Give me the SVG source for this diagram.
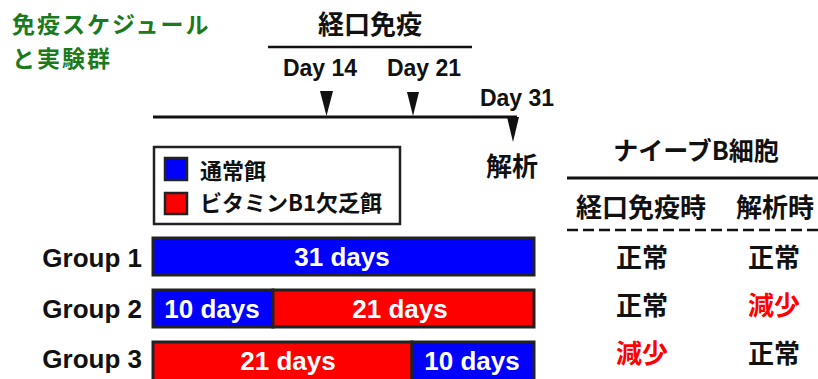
<svg xmlns="http://www.w3.org/2000/svg" width="818" height="379" viewBox="0 0 818 379">
<style>
  text { font-family: "Liberation Sans", "Noto Sans CJK JP", sans-serif; font-weight: bold; }
  .jp { font-family: "Noto Sans CJK JP", "Liberation Sans", sans-serif; font-weight: bold; }
  .blk { fill: #111; }
  .wh { fill: #fff; }
  .red { fill: #ff0000; }
  .bar { stroke: #222; stroke-width: 3; }
  .blue { fill: #0000ff; }
  .redf { fill: #ff0000; }
  .tri { fill: #111; }
  .ttl { fill: #1b7a1b; font-size: 23px; letter-spacing: 2px; }
</style>
<rect width="818" height="379" fill="#fff"/>

<g id="title">
  <text class="jp ttl" x="12" y="33">免疫スケジュール</text>
  <text class="jp ttl" x="12" y="67">と実験群</text>
</g>

<g id="immunization">
  <text class="jp blk" x="370" y="34" font-size="26" text-anchor="middle">経口免疫</text>
  <line x1="268" y1="47" x2="472" y2="47" stroke="#111" stroke-width="2.5"/>
</g>

<g id="timeline">
  <line x1="153" y1="117" x2="517" y2="117" stroke="#111" stroke-width="3"/>
  <text class="blk" x="320" y="76" font-size="23" text-anchor="middle">Day 14</text>
  <text class="blk" x="424" y="76" font-size="23" text-anchor="middle">Day 21</text>
  <text class="blk" x="517" y="106" font-size="23" text-anchor="middle">Day 31</text>
  <polygon class="tri" points="320,91 333,91 326.5,116"/>
  <polygon class="tri" points="407,92 419,92 413,116"/>
  <polygon class="tri" points="507,117 519,117 513,142"/>
  <text class="jp blk" x="512" y="176" font-size="26" text-anchor="middle">解析</text>
</g>

<g id="legend">
  <rect x="154" y="147" width="246" height="77" fill="#fff" stroke="#222" stroke-width="2.5"/>
  <rect x="165" y="158" width="22" height="22" class="blue" stroke="#222" stroke-width="2.5"/>
  <text class="jp blk" x="200" y="179" font-size="22">通常餌</text>
  <rect x="165" y="193" width="22" height="21" class="redf" stroke="#222" stroke-width="2.5"/>
  <text class="jp blk" x="200" y="211" font-size="22">ビタミンB1欠乏餌</text>
</g>

<g id="group1">
  <text class="blk" x="142" y="267" font-size="26" text-anchor="end">Group 1</text>
  <rect x="153" y="238" width="381" height="37" class="bar blue"/>
  <text class="wh" x="342" y="266" font-size="26" text-anchor="middle">31 days</text>
</g>

<g id="group2">
  <text class="blk" x="142" y="318" font-size="26" text-anchor="end">Group 2</text>
  <rect x="153" y="290" width="120" height="37" class="bar blue"/>
  <rect x="273" y="290" width="261" height="37" class="bar redf"/>
  <text class="wh" x="212" y="318" font-size="26" text-anchor="middle">10 days</text>
  <text class="wh" x="400" y="318" font-size="26" text-anchor="middle">21 days</text>
</g>

<g id="group3">
  <text class="blk" x="142" y="368" font-size="26" text-anchor="end">Group 3</text>
  <rect x="153" y="342" width="259" height="40" class="bar redf"/>
  <rect x="412" y="342" width="122" height="40" class="bar blue"/>
  <text class="wh" x="288" y="370" font-size="26" text-anchor="middle">21 days</text>
  <text class="wh" x="472" y="370" font-size="26" text-anchor="middle">10 days</text>
</g>

<g id="table">
  <text class="jp blk" x="696" y="160" font-size="25" text-anchor="middle">ナイーブB細胞</text>
  <line x1="567" y1="178" x2="818" y2="178" stroke="#111" stroke-width="3"/>
  <text class="jp blk" x="641" y="217" font-size="26" text-anchor="middle">経口免疫時</text>
  <text class="jp blk" x="775" y="217" font-size="26" text-anchor="middle">解析時</text>
  <line x1="567" y1="230" x2="818" y2="230" stroke="#111" stroke-width="2.5" stroke-dasharray="11,5"/>
  <text class="jp blk" x="642" y="267" font-size="26" text-anchor="middle">正常</text>
  <text class="jp blk" x="774" y="267" font-size="26" text-anchor="middle">正常</text>
  <text class="jp blk" x="642" y="315" font-size="26" text-anchor="middle">正常</text>
  <text class="jp red" x="774" y="315" font-size="26" text-anchor="middle">減少</text>
  <text class="jp red" x="642" y="363" font-size="26" text-anchor="middle">減少</text>
  <text class="jp blk" x="774" y="363" font-size="26" text-anchor="middle">正常</text>
</g>
</svg>
